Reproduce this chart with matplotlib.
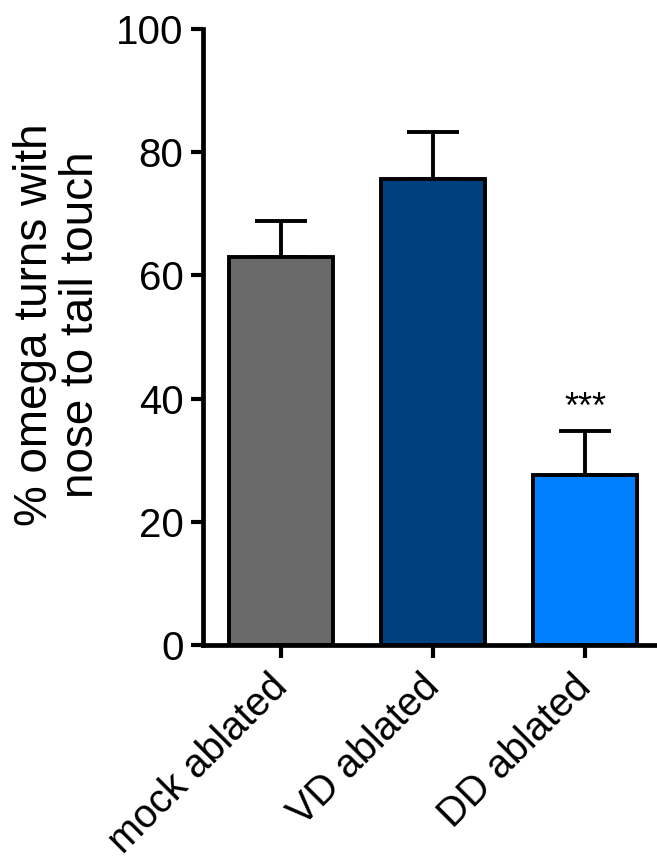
import matplotlib
matplotlib.use("Agg")
import matplotlib.pyplot as plt
import matplotlib.transforms as mtransforms

# data
groups = ["mock ablated", "VD ablated", "DD ablated"]
means = [63.0, 75.7, 27.6]
sem = [5.9, 7.6, 7.1]
bar_colors = ["#696969", "#00407f", "#0080ff"]
sig_label = "***"
sig_group = 2
sig_y = 36.8

plt.rcParams['font.family'] = ['Liberation Sans', 'DejaVu Sans']

fig = plt.figure(figsize=(6.57, 8.65), dpi=100)
ax = fig.add_axes([203 / 657, 220 / 865, 454 / 657, 616 / 865])

x = list(range(len(groups)))
# error bars (upper only, Prism style) under the bars
ax.errorbar(x, means, yerr=[[0] * len(sem), sem], fmt='none', ecolor='black',
            elinewidth=2.8, capsize=19, capthick=2.8, zorder=1)
ax.bar(x, means, width=0.68, color=bar_colors, edgecolor='black',
       linewidth=2.8, zorder=2)

ax.text(x[sig_group], sig_y, sig_label, ha='center', va='baseline', fontsize=26)

ax.set_xlim(-0.513, 2.474)
ax.set_ylim(0, 100)
ax.set_yticks([0, 20, 40, 60, 80, 100])
ax.set_xticks(x)
ax.set_xticklabels([])

# rotated group labels, baseline end just below-right of each tick
trans = mtransforms.blended_transform_factory(ax.transData, ax.transAxes)
shift = mtransforms.ScaledTranslation(8 / 100, -44 / 100, fig.dpi_scale_trans)
for xi, name in zip(x, groups):
    ax.text(xi, 0, name, transform=trans + shift, rotation=45, ha='right',
            va='baseline', rotation_mode='anchor', fontsize=28.5, clip_on=False)

ax.tick_params(axis='y', labelsize=29, width=3, length=9, pad=5)
ax.tick_params(axis='x', width=3, length=9)

for side in ['top', 'right']:
    ax.spines[side].set_visible(False)
for side in ['left', 'bottom']:
    ax.spines[side].set_linewidth(3.4)

ax.set_ylabel("% omega turns with\nnose to tail touch", fontsize=33,
              va='center', ha='center', linespacing=1.05)
ax.yaxis.set_label_coords((58 - 203) / 454, (645 - 325) / 616)

fig.savefig("out.png", dpi=100)
